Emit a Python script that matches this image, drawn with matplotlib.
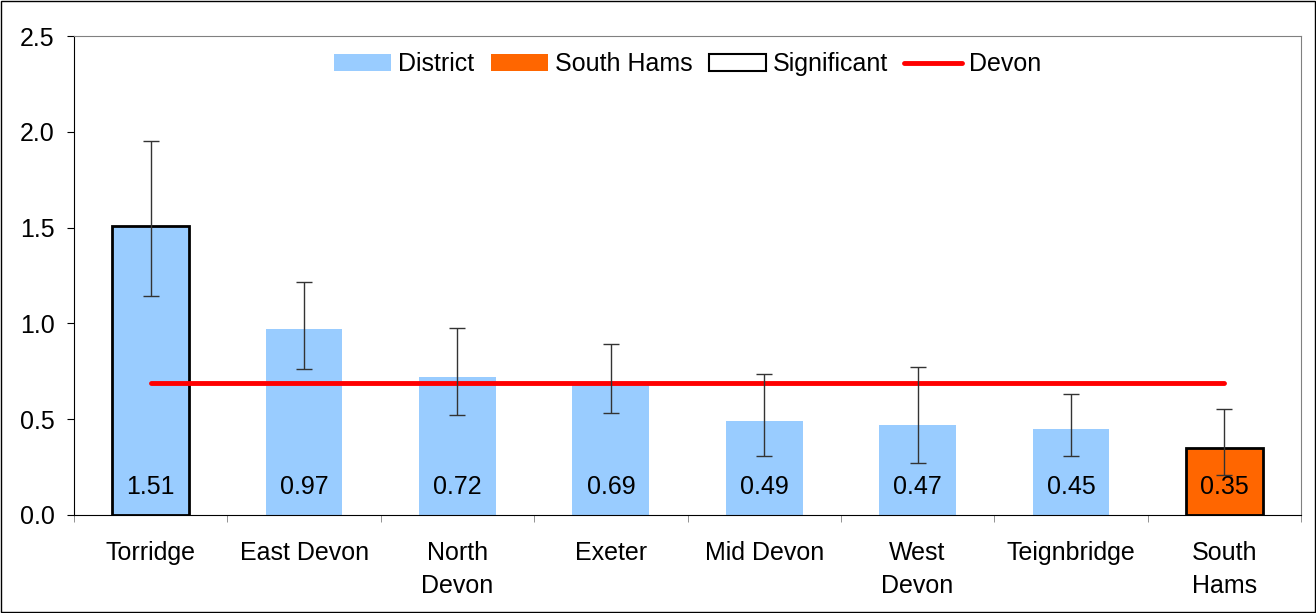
import numpy as np
import matplotlib.pyplot as plt
from matplotlib.patches import Patch
from matplotlib.lines import Line2D

plt.rcParams['font.family'] = ['Liberation Sans', 'DejaVu Sans']

districts = ['Torridge', 'East Devon', 'North\nDevon', 'Exeter', 'Mid Devon',
             'West\nDevon', 'Teignbridge', 'South\nHams']
values = [1.51, 0.97, 0.72, 0.69, 0.49, 0.47, 0.45, 0.35]
upper = [1.95, 1.215, 0.975, 0.895, 0.735, 0.775, 0.63, 0.555]
lower = [1.145, 0.76, 0.52, 0.53, 0.31, 0.27, 0.31, 0.21]
significant = [True, False, False, False, False, False, False, True]
devon = 0.69

fig = plt.figure(figsize=(13.16, 6.13), dpi=100)
ax = fig.add_axes([74 / 1316, 98 / 613, 1227 / 1316, 479 / 613])

x = np.arange(len(districts))
colors = ['#ff6600' if d.startswith('South') else '#99ccff' for d in districts]
for i in range(len(x)):
    ax.bar(x[i], values[i], width=0.5, color=colors[i],
           edgecolor='black' if significant[i] else 'none',
           linewidth=2 if significant[i] else 0, zorder=2)
    ax.text(x[i], 0.145, f'{values[i]:.2f}', ha='center', va='center',
            fontsize=18, zorder=5)

yerr = [np.array(values) - np.array(lower), np.array(upper) - np.array(values)]
ax.errorbar(x, values, yerr=yerr, fmt='none', ecolor='#333333', elinewidth=1,
            capsize=6, capthick=1, zorder=4)

ax.plot([x[0], x[-1]], [devon, devon], color='#ff0000', lw=3.5,
        solid_capstyle='round', zorder=3)

ax.set_xlim(-0.5, 7.5)
ax.set_ylim(0, 2.5)
ax.set_yticks([0, 0.5, 1.0, 1.5, 2.0, 2.5])
ax.set_yticklabels(['0.0', '0.5', '1.0', '1.5', '2.0', '2.5'], fontsize=18)
ax.set_xticks(x)
ax.set_xticklabels(districts, fontsize=18, linespacing=1.45)
ax.tick_params(axis='x', length=0, pad=19)
ax.set_xticks(np.arange(-0.5, 8, 1), minor=True)
ax.tick_params(axis='x', which='minor', length=5, color='#808080')
ax.tick_params(axis='y', length=5, direction='out', pad=9)

ax.spines['top'].set_color('#808080')
ax.spines['right'].set_color('#808080')

handles = [Patch(facecolor='#99ccff', edgecolor='none'),
           Patch(facecolor='#ff6600', edgecolor='none'),
           Patch(facecolor='white', edgecolor='black', linewidth=1.5),
           Line2D([0], [0], color='#ff0000', lw=3.5, solid_capstyle='round')]
ax.legend(handles, ['District', 'South Hams', 'Significant', 'Devon'],
          loc='upper center', bbox_to_anchor=(0.5, 1.013), ncol=4, frameon=False,
          fontsize=18, handlelength=2.3, handletextpad=0.28, columnspacing=0.64)

fig.patches.append(plt.Rectangle((0.001, 0.001), 0.998, 0.997, transform=fig.transFigure,
                                 fill=False, edgecolor='black', lw=1))

fig.savefig('out.png', dpi=100)
